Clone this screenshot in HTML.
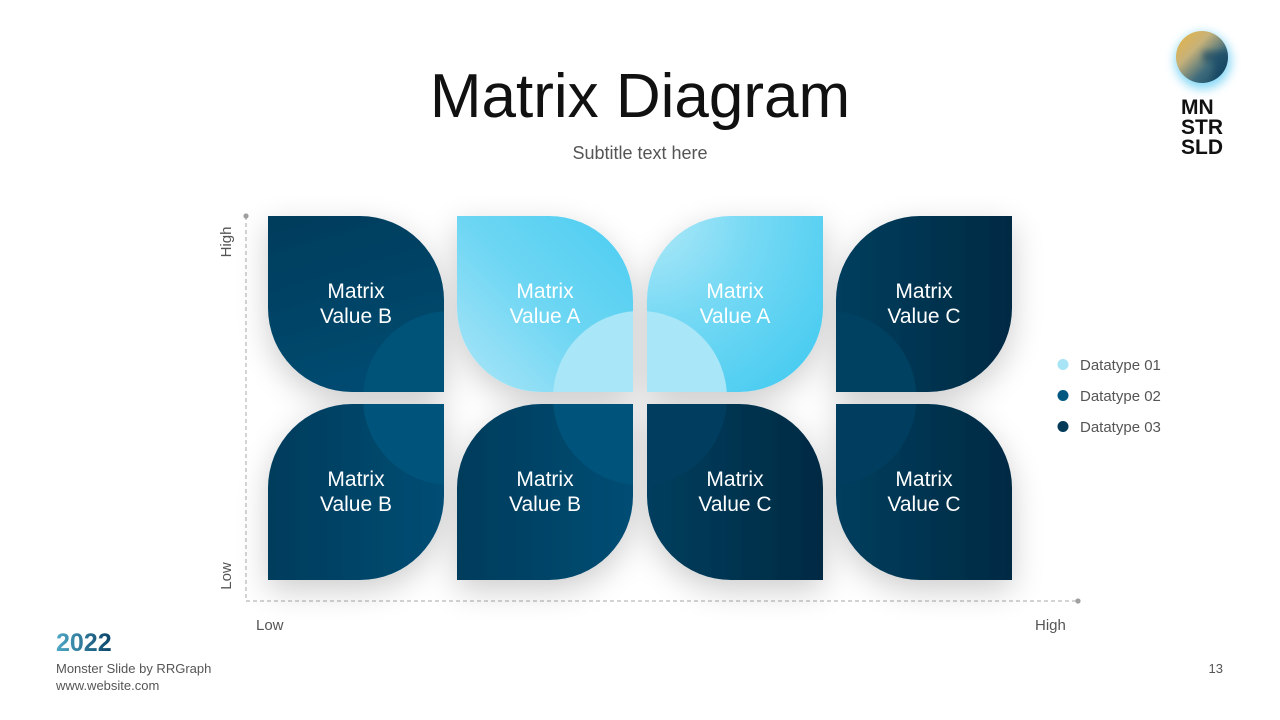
<!DOCTYPE html>
<html>
<head>
<meta charset="utf-8">
<style>
  html,body{margin:0;padding:0;background:#fff;}
  body{width:1280px;height:720px;position:relative;overflow:hidden;font-family:"Liberation Sans",sans-serif;}
  .abs{position:absolute;}
</style>
</head>
<body>
<svg class="abs" style="left:0;top:0" width="1280" height="720" viewBox="0 0 1280 720" xmlns="http://www.w3.org/2000/svg">
  <defs>
    <filter id="sh" x="-20%" y="-20%" width="140%" height="140%">
      <feGaussianBlur in="SourceAlpha" stdDeviation="16"/>
      <feOffset dx="0" dy="10" result="b"/>
      <feComponentTransfer><feFuncA type="linear" slope="0.2"/></feComponentTransfer>
      <feMerge><feMergeNode/><feMergeNode in="SourceGraphic"/></feMerge>
    </filter>
    <filter id="glow" x="-80%" y="-80%" width="260%" height="260%">
      <feGaussianBlur stdDeviation="5"/>
    </filter>
    <filter id="soft" x="-20%" y="-20%" width="140%" height="140%">
      <feGaussianBlur stdDeviation="3"/>
    </filter>
    <linearGradient id="gB1" x1="0" y1="0" x2="0.3" y2="1">
      <stop offset="0" stop-color="#023c5b"/>
      <stop offset="1" stop-color="#004a70"/>
    </linearGradient>
    <linearGradient id="gB2" x1="0" y1="0" x2="1" y2="0">
      <stop offset="0" stop-color="#023c5c"/>
      <stop offset="1" stop-color="#004d74"/>
    </linearGradient>
    <linearGradient id="gC" x1="0" y1="0" x2="1" y2="0">
      <stop offset="0" stop-color="#033e5e"/>
      <stop offset="1" stop-color="#022a43"/>
    </linearGradient>
    <linearGradient id="gA1" x1="1" y1="0" x2="0" y2="1">
      <stop offset="0" stop-color="#4ccdf1"/>
      <stop offset="0.5" stop-color="#6dd6f3"/>
      <stop offset="1" stop-color="#ade6f7"/>
    </linearGradient>
    <radialGradient id="gA2" cx="0" cy="0" r="1.2">
      <stop offset="0" stop-color="#b2e9f8"/>
      <stop offset="0.5" stop-color="#76d9f4"/>
      <stop offset="1" stop-color="#4ccdf1"/>
    </radialGradient>
    <linearGradient id="logoG" x1="0" y1="0" x2="1" y2="1">
      <stop offset="0" stop-color="#e9b43c"/>
      <stop offset="0.35" stop-color="#c7b27a"/>
      <stop offset="0.65" stop-color="#3f6c7c"/>
      <stop offset="1" stop-color="#0a3d5c"/>
    </linearGradient>
    <linearGradient id="yearG" x1="0" y1="0" x2="1" y2="0">
      <stop offset="0" stop-color="#4fa8c6"/>
      <stop offset="1" stop-color="#0b4468"/>
    </linearGradient>

    <clipPath id="c1"><path d="M268,216 H360 A84,84 0 0 1 444,300 V392 H352 A84,84 0 0 1 268,308 Z"/></clipPath>
    <clipPath id="c2"><path d="M457,216 H549 A84,84 0 0 1 633,300 V392 H541 A84,84 0 0 1 457,308 Z"/></clipPath>
    <clipPath id="c3"><path d="M731,216 H823 V308 A84,84 0 0 1 739,392 H647 V300 A84,84 0 0 1 731,216 Z"/></clipPath>
    <clipPath id="c4"><path d="M920,216 H1012 V308 A84,84 0 0 1 928,392 H836 V300 A84,84 0 0 1 920,216 Z"/></clipPath>
    <clipPath id="c5"><path d="M352,404 H444 V496 A84,84 0 0 1 360,580 H268 V488 A84,84 0 0 1 352,404 Z"/></clipPath>
    <clipPath id="c6"><path d="M541,404 H633 V496 A84,84 0 0 1 549,580 H457 V488 A84,84 0 0 1 541,404 Z"/></clipPath>
    <clipPath id="c7"><path d="M647,404 H739 A84,84 0 0 1 823,488 V580 H731 A84,84 0 0 1 647,496 Z"/></clipPath>
    <clipPath id="c8"><path d="M836,404 H928 A84,84 0 0 1 1012,488 V580 H920 A84,84 0 0 1 836,496 Z"/></clipPath>
    <clipPath id="logoClip"><circle cx="1202" cy="57" r="26"/></clipPath>
  </defs>

  <!-- axes -->
  <line x1="246" y1="216" x2="246" y2="601" stroke="#a8a8a8" stroke-width="1" stroke-dasharray="4,3"/>
  <line x1="246" y1="601" x2="1078" y2="601" stroke="#a8a8a8" stroke-width="1" stroke-dasharray="4,3"/>
  <circle cx="246" cy="216" r="2.6" fill="#a0a0a0"/>
  <circle cx="1078" cy="601" r="2.6" fill="#a0a0a0"/>

  <!-- tiles -->
  <g filter="url(#sh)">
    <g clip-path="url(#c1)">
      <rect x="268" y="216" width="176" height="176" fill="url(#gB1)"/>
      <circle cx="450" cy="398" r="87" fill="#005278"/>
    </g>
    <g clip-path="url(#c2)">
      <rect x="457" y="216" width="176" height="176" fill="url(#gA1)"/>
      <circle cx="640" cy="398" r="87" fill="#a9e6f7"/>
    </g>
    <g clip-path="url(#c3)">
      <rect x="647" y="216" width="176" height="176" fill="url(#gA2)"/>
      <circle cx="640" cy="398" r="87" fill="#a9e6f7"/>
    </g>
    <g clip-path="url(#c4)">
      <rect x="836" y="216" width="176" height="176" fill="url(#gC)"/>
      <circle cx="829.5" cy="398" r="87" fill="#043f60"/>
    </g>
    <g clip-path="url(#c5)">
      <rect x="268" y="404" width="176" height="176" fill="url(#gB2)"/>
      <circle cx="450" cy="398" r="87" fill="#00527a"/>
    </g>
    <g clip-path="url(#c6)">
      <rect x="457" y="404" width="176" height="176" fill="url(#gB2)"/>
      <circle cx="640" cy="398" r="87" fill="#00527a"/>
    </g>
    <g clip-path="url(#c7)">
      <rect x="647" y="404" width="176" height="176" fill="url(#gC)"/>
      <circle cx="640" cy="398" r="87" fill="#043e5e"/>
    </g>
    <g clip-path="url(#c8)">
      <rect x="836" y="404" width="176" height="176" fill="url(#gC)"/>
      <circle cx="829.5" cy="398" r="87" fill="#043e5e"/>
    </g>
  </g>

  <!-- tile text -->
  <g font-family="Liberation Sans, sans-serif" font-size="21" fill="#ffffff" text-anchor="middle">
    <text x="356" y="298">Matrix</text><text x="356" y="323">Value B</text>
    <text x="545" y="298">Matrix</text><text x="545" y="323">Value A</text>
    <text x="735" y="298">Matrix</text><text x="735" y="323">Value A</text>
    <text x="924" y="298">Matrix</text><text x="924" y="323">Value C</text>
    <text x="356" y="486">Matrix</text><text x="356" y="511">Value B</text>
    <text x="545" y="486">Matrix</text><text x="545" y="511">Value B</text>
    <text x="735" y="486">Matrix</text><text x="735" y="511">Value C</text>
    <text x="924" y="486">Matrix</text><text x="924" y="511">Value C</text>
  </g>

  <!-- axis labels -->
  <g font-family="Liberation Sans, sans-serif" font-size="15" fill="#555">
    <text x="256" y="630">Low</text>
    <text x="1035" y="630">High</text>
    <text transform="translate(231,242) rotate(-90)" text-anchor="middle">High</text>
    <text transform="translate(231,576) rotate(-90)" text-anchor="middle">Low</text>
  </g>

  <!-- legend -->
  <circle cx="1063" cy="364.5" r="5.5" fill="#a6e4f6"/>
  <circle cx="1063" cy="395.5" r="5.5" fill="#005780"/>
  <circle cx="1063" cy="426.5" r="5.5" fill="#023a58"/>
  <g font-family="Liberation Sans, sans-serif" font-size="15" fill="#555">
    <text x="1080" y="370">Datatype 01</text>
    <text x="1080" y="401">Datatype 02</text>
    <text x="1080" y="432">Datatype 03</text>
  </g>

  <!-- logo -->
  <circle cx="1203" cy="61" r="28" fill="#6fd0f4" filter="url(#glow)" opacity="0.85"/>
  <circle cx="1202" cy="57" r="26" fill="url(#logoG)"/>
  <g clip-path="url(#logoClip)">
    <path d="M1203,51 L1230,51 L1230,85 L1214,85 L1214,62 L1203,62 Z" fill="#0a3f5e" opacity="0.55" filter="url(#soft)"/>
  </g>

  <!-- title -->
  <text x="640" y="117" text-anchor="middle" font-family="Liberation Sans, sans-serif" font-size="62" fill="#111">Matrix Diagram</text>
  <text x="640" y="159" text-anchor="middle" font-family="Liberation Sans, sans-serif" font-size="18" fill="#555">Subtitle text here</text>

  <!-- logo text -->
  <g font-family="Liberation Sans, sans-serif" font-size="21" font-weight="bold" fill="#111">
    <text x="1181" y="114">MN</text>
    <text x="1181" y="134">STR</text>
    <text x="1181" y="154">SLD</text>
  </g>

  <!-- footer -->
  <text x="56" y="651" font-family="Liberation Sans, sans-serif" font-size="25" font-weight="bold" fill="url(#yearG)">2022</text>
  <g font-family="Liberation Sans, sans-serif" font-size="13" fill="#555">
    <text x="56" y="673">Monster Slide  by RRGraph</text>
    <text x="56" y="690">www.website.com</text>
    <text x="1223" y="673" text-anchor="end">13</text>
  </g>
</svg>
</body>
</html>
